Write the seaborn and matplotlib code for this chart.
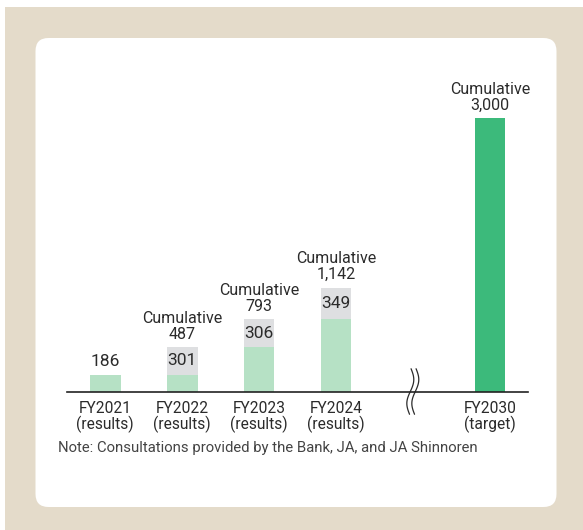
import numpy as np
import pandas as pd
import matplotlib
matplotlib.use("Agg")
import matplotlib.pyplot as plt
import seaborn as sns
from matplotlib.patches import Rectangle, FancyBboxPatch

# data
years = ["FY2021", "FY2022", "FY2023", "FY2024", "FY2030"]
status = ["results", "results", "results", "results", "target"]
cumulative = [186, 487, 793, 1142]
added = [186, 301, 306, 349]
carried = [186, 186, 487, 793]   # light green part of each results bar
target = 3000

gap = " "
order = years[:4] + [gap] + years[4:]

df_res = pd.DataFrame({"year": years[:4], "total": cumulative, "carried": carried, "added": added})
df_tgt = pd.DataFrame({"year": [years[4]], "total": [target]})

sns.set_style("white")
plt.rcParams["font.family"] = ["Roboto", "DejaVu Sans"]

txt = "#2b2b2b"
beige = "#E4DBCA"
gray = "#DEDFE1"
light_green = "#B6E1C5"
dark_green = "#3CBA7B"

fig = plt.figure(figsize=(5.83, 5.30), dpi=100)
fig.patch.set_facecolor("white")
fig.patches.append(Rectangle((0.05, 0), 5.78, 5.23, transform=fig.dpi_scale_trans,
                             facecolor=beige, edgecolor="none", zorder=-20))
fig.patches.append(FancyBboxPatch((0.355, 0.23), 5.21, 4.69, transform=fig.dpi_scale_trans,
                                  boxstyle="round,pad=0,rounding_size=0.13",
                                  facecolor="white", edgecolor="none", zorder=-10))

ax = fig.add_axes([0.1144, 0.2613, 0.792, 0.567])
ax.set_facecolor("none")

bar_kw = dict(order=order, width=0.4, saturation=1, errorbar=None, linewidth=0, ax=ax)
sns.barplot(data=df_res, x="year", y="total", color=gray, **bar_kw)
sns.barplot(data=df_res, x="year", y="carried", color=light_green, **bar_kw)
sns.barplot(data=df_tgt, x="year", y="total", color=dark_green, **bar_kw)

ax.set_xlim(-0.5, len(order) - 0.5)
ax.set_ylim(0, 3300)
ax.set_xlabel("")
ax.set_ylabel("")
ax.set_yticks([])
for s in ["top", "right", "left"]:
    ax.spines[s].set_visible(False)
ax.spines["bottom"].set_color("#222222")
ax.spines["bottom"].set_linewidth(1.2)

labels = []
for c in order:
    if c == gap:
        labels.append("")
    else:
        labels.append(f"{c}\n({status[years.index(c)]})")
ax.set_xticks(range(len(order)))
ax.set_xticklabels(labels, fontsize=11.2, color=txt, linespacing=1.0)
ax.tick_params(axis="x", length=0, pad=7)

# value labels
for i, row in df_res.iterrows():
    xi = order.index(row["year"])
    if i == 0:
        ax.annotate(f"{row['total']:,}", (xi, row["total"]), xytext=(0, 4),
                    textcoords="offset points", ha="center", va="bottom",
                    fontsize=12.5, color=txt)
    else:
        ax.annotate(f"Cumulative\n{row['total']:,}", (xi, row["total"]), xytext=(0, 4),
                    textcoords="offset points", ha="center", va="bottom",
                    fontsize=11.5, color=txt, linespacing=1.05)
        ax.text(xi, row["carried"] + row["added"] / 2, f"{row['added']:,}",
                ha="center", va="center", fontsize=12.5, color=txt)

xt = order.index(years[4])
ax.annotate(f"Cumulative\n{target:,}", (xt, target), xytext=(0, 4),
            textcoords="offset points", ha="center", va="bottom",
            fontsize=11.5, color=txt, linespacing=1.05)

# axis break mark
t = np.linspace(-1, 1, 60)
xb = order.index(gap)
for dx in (-0.035, 0.03):
    ax.plot(xb + dx + 0.04 * np.sin(np.pi * t) + 0.01 * t, t * 250, color=txt,
            lw=0.9, clip_on=False)

fig.text(58 / 583, (530 - 448) / 530, "Note: Consultations provided by the Bank, JA, and JA Shinnoren",
         ha="left", va="center", fontsize=10.7, color="#444444")

fig.savefig("out.png", dpi=100, facecolor="white")
